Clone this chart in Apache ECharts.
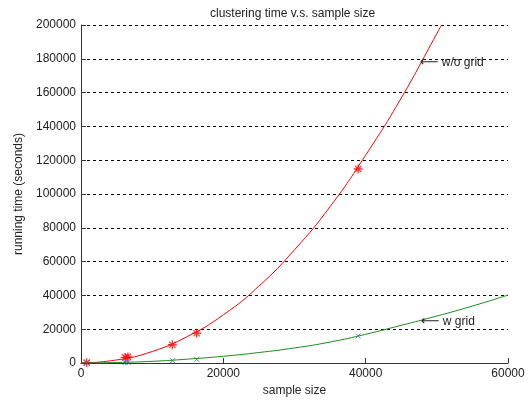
<!DOCTYPE html>
<html>
<head>
<meta charset="utf-8">
<script src="https://cdn.jsdelivr.net/npm/echarts@6/dist/echarts.min.js"></script>
<style>
  html, body { margin: 0; padding: 0; background: #fff; }
  #chart { width: 531px; height: 402px; }
</style>
</head>
<body>
<div id="chart"></div>
<script>
// fitted curve without grid
var noGridCurveX = [0, 5000, 10000, 15000, 20000, 25000, 30000, 35000, 40000, 45000, 50000, 50660];
var noGridCurveY = [0, 1800, 6800, 15800, 28500, 45500, 67000, 92500, 123000, 156800, 194900, 200000];
// measured points without grid
var noGridPtsX = [800, 6200, 6600, 12830, 16250, 38950];
var noGridPtsY = [200, 3300, 3600, 10800, 17600, 114800];
// fitted curve with grid
var gridCurveX = [0, 5000, 10000, 15000, 20000, 25000, 30000, 35000, 40000, 45000, 50000, 55000, 60000];
var gridCurveY = [0, 300, 1000, 2300, 4000, 6200, 8900, 12400, 17000, 22300, 27800, 33700, 40200];
// measured points with grid
var gridPtsX = [800, 6200, 6600, 12880, 16250, 38950];
var gridPtsY = [50, 300, 350, 1400, 2200, 16000];
// annotation anchors
var noGridNote = [47600, 177500];
var gridNote = [47750, 24300];

function pairs(xs, ys) {
  return xs.map(function (x, i) { return [x, ys[i]]; });
}

var font = 'Liberation Sans';
var noteLabel = function (txt) {
  return {
    show: true, position: 'right', distance: 0,
    formatter: '{a|\u27f5} ' + txt,
    fontFamily: font, fontSize: 12, color: '#222',
    rich: { a: { fontFamily: 'DejaVu Sans', fontSize: 13, color: '#222' } }
  };
};
var chart = echarts.init(document.getElementById('chart'));
var option = {
  animation: false,
  backgroundColor: '#fff',
  title: {
    text: 'clustering time v.s. sample size',
    left: 205,
    top: 3,
    textStyle: { fontFamily: font, fontSize: 12, fontWeight: 'normal', color: '#222' }
  },
  grid: { left: 81, right: 23, top: 25, bottom: 39 },
  xAxis: {
    type: 'value',
    min: 0, max: 60000, interval: 20000,
    name: 'sample size',
    nameLocation: 'middle',
    nameGap: 22,
    nameTextStyle: { fontFamily: font, fontSize: 12, color: '#222' },
    axisLine: { lineStyle: { color: '#333', width: 1 } },
    axisTick: { inside: true, length: 5, lineStyle: { color: '#333' } },
    axisLabel: { fontFamily: font, fontSize: 12, color: '#222', margin: 5, formatter: function (v) { return String(v); } },
    splitLine: { show: false }
  },
  yAxis: {
    type: 'value',
    min: 0, max: 200000, interval: 20000,
    name: 'running time (seconds)',
    nameLocation: 'middle',
    nameGap: 56,
    nameTextStyle: { fontFamily: font, fontSize: 12, color: '#222' },
    axisLine: { show: true, lineStyle: { color: '#333', width: 1 } },
    axisTick: { inside: true, length: 5, lineStyle: { color: '#333' } },
    axisLabel: { fontFamily: font, fontSize: 12, color: '#222', margin: 5, formatter: function (v) { return String(v); } },
    splitLine: { show: true, lineStyle: { color: '#000', type: [3, 3], width: 1 } }
  },
  series: [
    {
      type: 'line',
      data: pairs(noGridCurveX, noGridCurveY),
      smooth: true,
      showSymbol: false,
      lineStyle: { color: '#ff0000', width: 1 },
      markPoint: {
        symbol: 'circle', symbolSize: 0,
        label: noteLabel('w/o grid'),
        data: [{ coord: noGridNote }]
      }
    },
    {
      type: 'scatter',
      data: pairs(noGridPtsX, noGridPtsY),
      symbol: 'path://M5,0V10M0,5H10M1.5,1.5L8.5,8.5M8.5,1.5L1.5,8.5',
      symbolSize: 9,
      itemStyle: { color: 'none', borderColor: '#ff0000', borderWidth: 1.3 }
    },
    {
      type: 'line',
      data: pairs(gridCurveX, gridCurveY),
      smooth: true,
      showSymbol: false,
      lineStyle: { color: '#1a8c1a', width: 1 },
      markPoint: {
        symbol: 'circle', symbolSize: 0,
        label: noteLabel('w grid'),
        data: [{ coord: gridNote }]
      }
    },
    {
      type: 'scatter',
      data: pairs(gridPtsX, gridPtsY),
      symbol: 'path://M0,0L10,10M10,0L0,10',
      symbolSize: 5,
      itemStyle: { color: 'none', borderColor: '#3355ff', borderWidth: 1 }
    }
  ]
};
chart.setOption(option);
</script>
</body>
</html>
